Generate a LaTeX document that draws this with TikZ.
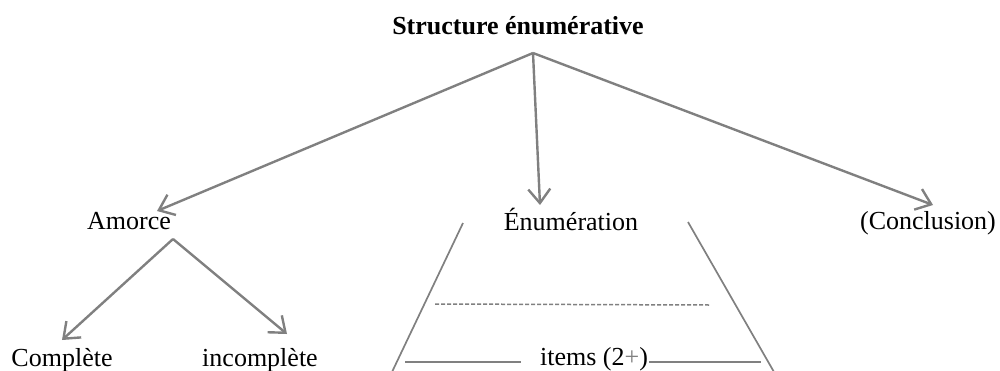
\documentclass[tikz,border=0pt]{standalone}
\usepackage{fontspec}
\setmainfont{Liberation Serif}
\usetikzlibrary{arrows.meta}
\definecolor{lg}{HTML}{808080}
\begin{document}
\begin{tikzpicture}[x=1pt,y=-1pt,
  lbl/.style={anchor=base,inner sep=0pt,font=\fontsize{26}{30}\selectfont},
  arr/.style={draw=lg,line width=2.4pt,-{Straight Barb[length=14pt,width=22pt,line width=2.4pt]}},
  thin/.style={draw=lg,line width=1.7pt},
  solid line/.style={draw=lg,line width=2.2pt},
  dash line/.style={draw=lg,line width=1.5pt,dash pattern=on 4pt off 2pt}]
\useasboundingbox (0,0) rectangle (1000,370);
\node[lbl,font=\fontsize{26}{30}\selectfont\bfseries] (title) at (518,34) {Structure énumérative};
\coordinate (apex) at (533,53);
\node[lbl] (amorce) at (129,229) {Amorce};
\node[lbl] (enum) at (571,230) {Énumération};
\node[lbl] (concl) at (928,229) {(Conclusion)};
\node[lbl] (comp) at (62,366) {Complète};
\node[lbl] (incomp) at (260,366) {incomplète};
\node[lbl] (items) at (594,365) {items (2{\color{lg}+})};
\coordinate (tA) at (157,211);
\coordinate (tE) at (540,205);
\coordinate (tC) at (933,205);
\coordinate (fork) at (173,239);
\coordinate (tc1) at (62,340);
\coordinate (tc2) at (287,334);
\draw[arr] (apex) -- (tA);
\draw[arr] (apex) -- (tE);
\draw[arr] (apex) -- (tC);
\draw[arr] (fork) -- (tc1);
\draw[arr] (fork) -- (tc2);
% trapezoid
\coordinate (tl) at (463,223);
\coordinate (bl) at (392,372);
\coordinate (tr) at (688,222);
\coordinate (br) at (774,372);
\draw[thin] (tl) -- (bl);
\draw[thin] (tr) -- (br);
\coordinate (d1) at (435,304);
\coordinate (d2) at (710,305);
\draw[dash line] (d1) -- (d2);
\coordinate (l1) at (405,362);
\coordinate (l2) at (521,362);
\coordinate (r1) at (761,362);
\draw[solid line] (l1) -- (l2);
\draw[solid line] ([xshift=1pt]items.east |- r1) -- (r1);
\end{tikzpicture}
\end{document}
